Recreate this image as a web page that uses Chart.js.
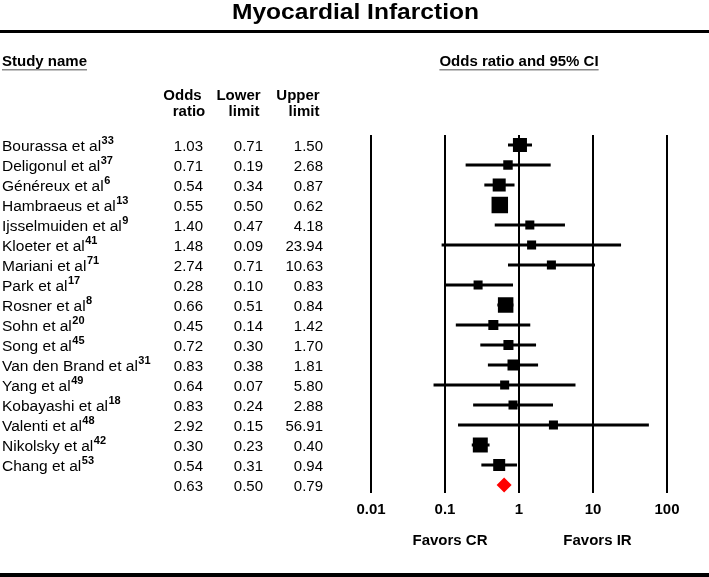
<!DOCTYPE html>
<html>
<head>
<meta charset="utf-8">
<script src="https://cdn.jsdelivr.net/npm/chart.js@4/dist/chart.umd.min.js"></script>
<style>
  html, body { margin: 0; padding: 0; background: #fff; }
  #wrap { width: 709px; height: 577px; position: relative; }
  canvas { display: block; }
</style>
</head>
<body>
<div id="wrap"><canvas id="c" width="709" height="577"></canvas></div>
<script>
// ---- data ----
const studyNames = ["Bourassa et al", "Deligonul et al", "Généreux et al", "Hambraeus et al",
  "Ijsselmuiden et al", "Kloeter et al", "Mariani et al", "Park et al", "Rosner et al",
  "Sohn et al", "Song et al", "Van den Brand et al", "Yang et al", "Kobayashi et al",
  "Valenti et al", "Nikolsky et al", "Chang et al"];
const studyRefs = ["33", "37", "6", "13", "9", "41", "71", "17", "8", "20", "45", "31", "49", "18", "48", "42", "53"];
const oddsRatio  = [1.03, 0.71, 0.54, 0.55, 1.40, 1.48, 2.74, 0.28, 0.66, 0.45, 0.72, 0.83, 0.64, 0.83, 2.92, 0.30, 0.54];
const lowerLimit = [0.71, 0.19, 0.34, 0.50, 0.47, 0.09, 0.71, 0.10, 0.51, 0.14, 0.30, 0.38, 0.07, 0.24, 0.15, 0.23, 0.31];
const upperLimit = [1.50, 2.68, 0.87, 0.62, 4.18, 23.94, 10.63, 0.83, 0.84, 1.42, 1.70, 1.81, 5.80, 2.88, 56.91, 0.40, 0.94];
const studyWeight = [12.3, 5.6, 10.6, 17.0, 5.1, 5.1, 5.1, 5.1, 15.0, 6.3, 6.3, 7.6, 5.1, 5.1, 5.1, 14.0, 9.0];
const summaryOR = 0.63, summaryLower = 0.50, summaryUpper = 0.79;
const xTickValues = [0.01, 0.1, 1, 10, 100];
const xTickLabels = ["0.01", "0.1", "1", "10", "100"];
const chartTitle = "Myocardial Infarction";
const favorsLeft = "Favors CR", favorsRight = "Favors IR";

// ---- chart ----
const FONT = "'Liberation Sans', Arial, Helvetica, sans-serif";
const nRows = studyNames.length;

const squareSide = w => 4 * Math.sqrt(w);
const ciDatasets = studyNames.map((n, i) => ({
  label: n + " CI",
  data: [{ x: lowerLimit[i], y: i }, { x: upperLimit[i], y: i }],
  showLine: true,
  borderColor: "#000",
  borderWidth: 3,
  pointRadius: 0,
  order: 2
}));

const textPlugin = {
  id: "forestText",
  afterDraw(chart) {
    const ctx = chart.ctx;
    const yS = chart.scales.y;
    ctx.save();
    ctx.fillStyle = "#000";
    // title
    ctx.font = "bold 22px " + FONT;
    ctx.textBaseline = "alphabetic";
    ctx.textAlign = "left";
    const tw = ctx.measureText(chartTitle).width;
    const targetW = 247;
    ctx.save();
    ctx.translate(355.5 - targetW / 2, 18.5);
    ctx.scale(targetW / tw, 1);
    ctx.fillText(chartTitle, 0, 0);
    ctx.restore();
    // thick rules
    ctx.fillRect(0, 30, 709, 3);
    ctx.fillRect(0, 573, 709, 4);
    // section headers
    ctx.font = "bold 15px " + FONT;
    ctx.textAlign = "left";
    ctx.fillText("Study name", 2, 66);
    let w1 = ctx.measureText("Study name").width;
    ctx.textAlign = "center";
    ctx.fillText("Odds ratio and 95% CI", 519, 66);
    let w2 = ctx.measureText("Odds ratio and 95% CI").width;
    ctx.fillStyle = "#8a8a8a";
    ctx.fillRect(2, 69, w1, 1.5);
    ctx.fillRect(519 - w2 / 2, 69, w2, 1.5);
    ctx.fillStyle = "#000";
    // column headers
    ctx.fillText("Odds", 182.5, 100);
    ctx.fillText("ratio", 189, 116);
    ctx.fillText("Lower", 238.5, 100);
    ctx.fillText("limit", 244, 116);
    ctx.fillText("Upper", 298, 100);
    ctx.fillText("limit", 304, 116);
    // rows
    const drawRow = (i, name, ref, or, lo, hi) => {
      const yc = yS.getPixelForValue(i);
      const base = yc + 6;
      if (name) {
        ctx.textAlign = "left";
        ctx.font = "15.5px " + FONT;
        ctx.fillText(name, 2, base);
        const nw = ctx.measureText(name).width;
        ctx.font = "bold 11px " + FONT;
        ctx.fillText(ref, 2 + nw + 0.5, base - 7.5);
      }
      ctx.font = "15px " + FONT;
      ctx.textAlign = "right";
      ctx.fillText(or.toFixed(2), 203, base);
      ctx.fillText(lo.toFixed(2), 263, base);
      ctx.fillText(hi.toFixed(2), 323, base);
    };
    for (let i = 0; i < nRows; i++) {
      drawRow(i, studyNames[i], studyRefs[i], oddsRatio[i], lowerLimit[i], upperLimit[i]);
    }
    drawRow(nRows, null, null, summaryOR, summaryLower, summaryUpper);
    // favors labels
    ctx.font = "bold 15px " + FONT;
    ctx.textAlign = "center";
    ctx.fillText(favorsLeft, 450, 544.5);
    ctx.fillText(favorsRight, 597.5, 544.5);
    ctx.restore();
  }
};

new Chart(document.getElementById("c"), {
  type: "scatter",
  data: {
    datasets: [
      {
        label: "Odds ratio",
        data: oddsRatio.map((v, i) => ({ x: v, y: i })),
        pointStyle: "rect",
        pointRadius: studyWeight.map(w => squareSide(w) / Math.SQRT2),
        pointBackgroundColor: "#000",
        pointBorderWidth: 0,
        borderWidth: 0,
        order: 0
      },
      {
        label: "Summary",
        data: [{ x: summaryOR, y: nRows }],
        pointStyle: "rectRot",
        pointRadius: 7.5,
        pointBackgroundColor: "#ff0000",
        pointBorderWidth: 0,
        borderWidth: 0,
        order: 0
      },
      ...ciDatasets
    ]
  },
  options: {
    responsive: false,
    animation: false,
    devicePixelRatio: 1,
    layout: { padding: { left: 371, right: 42, top: 135, bottom: 50 } },
    plugins: { legend: { display: false }, tooltip: { enabled: false }, title: { display: false } },
    scales: {
      x: {
        type: "logarithmic",
        min: 0.01,
        max: 100,
        afterBuildTicks: s => { s.ticks = xTickValues.map(v => ({ value: v })); },
        ticks: {
          callback: (v, idx) => xTickLabels[idx],
          font: { family: FONT, size: 15, weight: "bold" },
          color: "#000",
          padding: 8,
          maxRotation: 0,
          autoSkip: false
        },
        grid: { color: "#000", lineWidth: 2, drawTicks: false },
        border: { display: false }
      },
      y: {
        type: "linear",
        min: -0.5,
        max: nRows + 0.4,
        reverse: true,
        display: false
      }
    }
  },
  plugins: [textPlugin]
});
</script>
</body>
</html>
